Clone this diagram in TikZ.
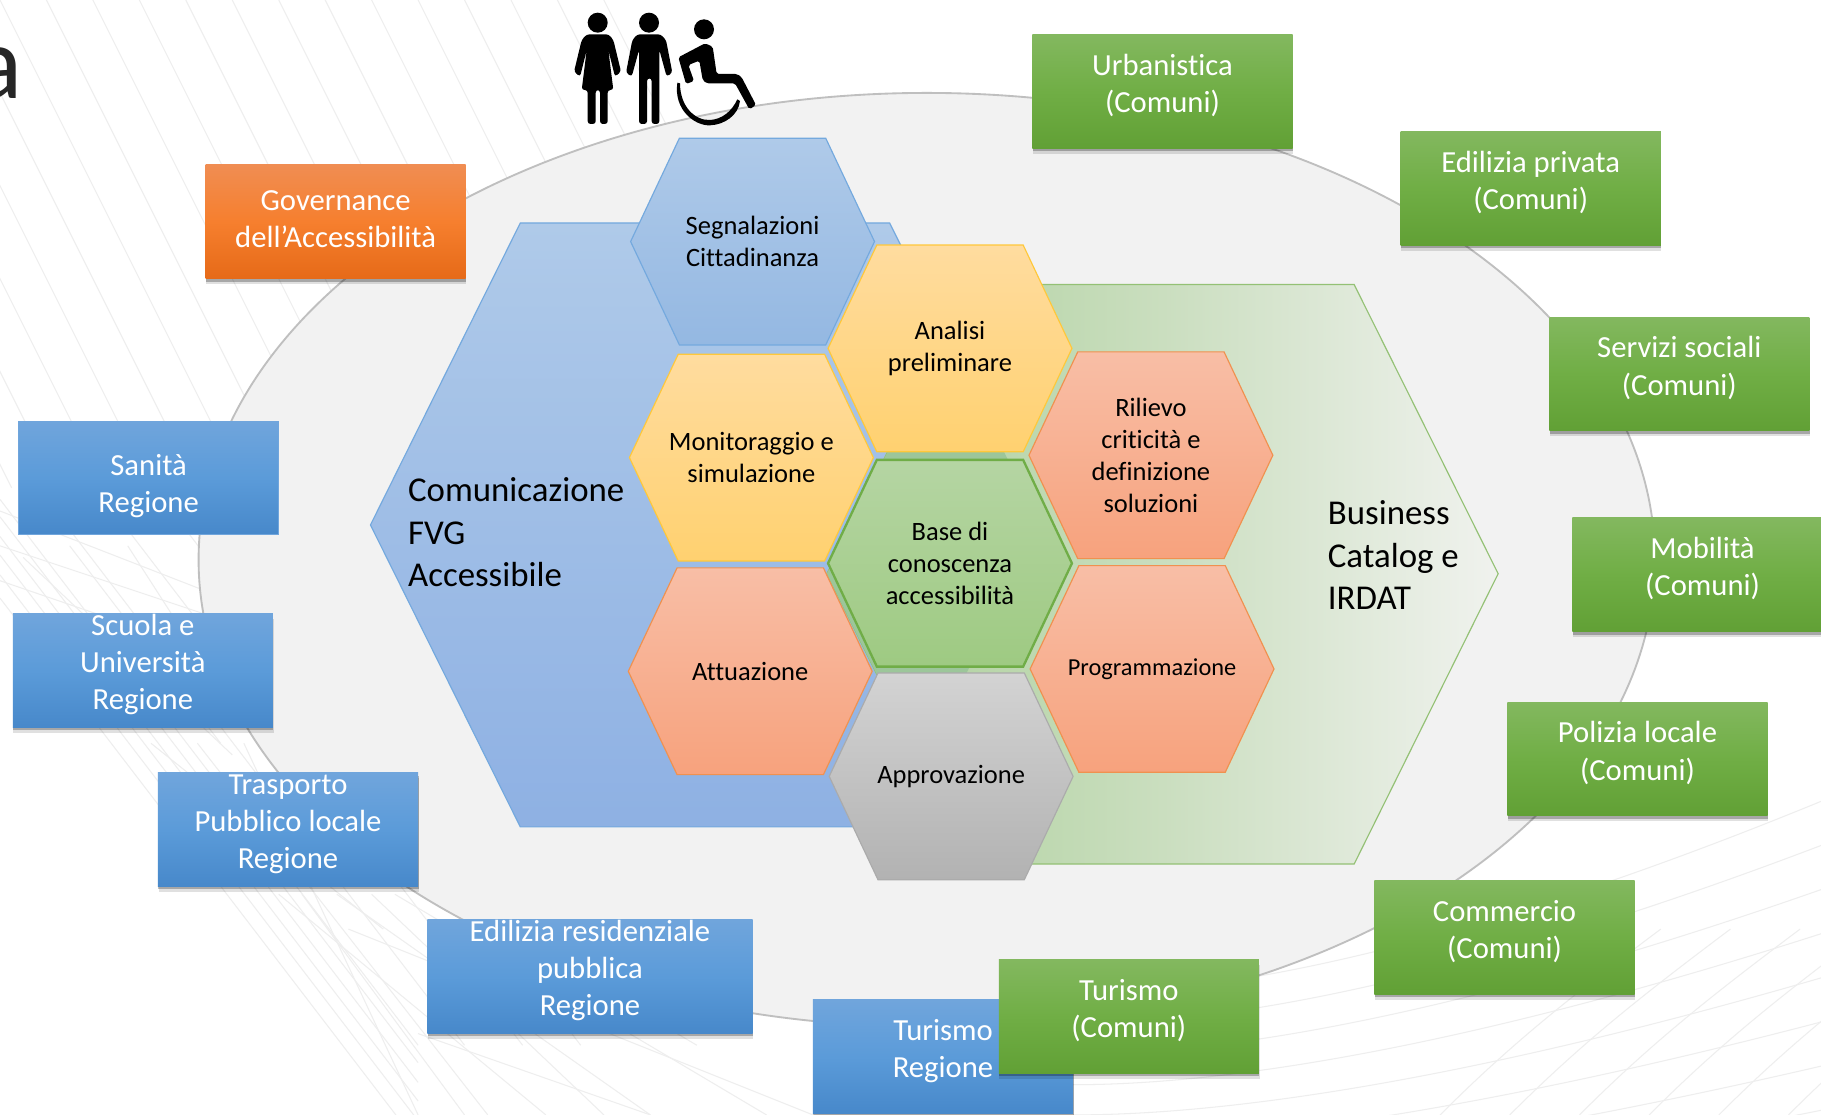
\documentclass[tikz,border=0pt]{standalone}
\usepackage{fontspec}
\setmainfont[Ligatures=NoCommon]{Carlito}
\usetikzlibrary{shadows}
\definecolor{grT}{HTML}{83B85F}\definecolor{grM}{HTML}{70AE45}\definecolor{grB}{HTML}{61A035}
\definecolor{blT}{HTML}{70A5DC}\definecolor{blM}{HTML}{5B9BD9}\definecolor{blB}{HTML}{4788CA}
\definecolor{orT}{HTML}{F08D52}\definecolor{orM}{HTML}{F67F2E}\definecolor{orB}{HTML}{E66A18}
\definecolor{bgline}{HTML}{EEEEEE}
\definecolor{HexBlueD}{HTML}{74A9DE}\definecolor{HexBlueT}{HTML}{AFCAE9}\definecolor{HexBlueB}{HTML}{94B8E2}
\definecolor{HexYelD}{HTML}{FFC83A}\definecolor{HexYelT}{HTML}{FFDC9F}\definecolor{HexYelB}{HTML}{FFD170}
\definecolor{HexSalD}{HTML}{F0914F}\definecolor{HexSalT}{HTML}{F8BEA6}\definecolor{HexSalB}{HTML}{F7A27D}
\definecolor{HexGrnD}{HTML}{70AD47}\definecolor{HexGrnT}{HTML}{B5D5A3}\definecolor{HexGrnB}{HTML}{9ECA82}
\definecolor{HexGryD}{HTML}{ABABAB}\definecolor{HexGryT}{HTML}{D3D3D3}\definecolor{HexGryB}{HTML}{B2B2B2}
\definecolor{BigGrnL}{HTML}{AACF98}\definecolor{BigGrnM}{HTML}{CADEBF}\definecolor{BigGrnR}{HTML}{F0F2EE}
\tikzset{
  boxbase/.style={rectangle,minimum width=112pt,minimum height=49pt,inner sep=0pt,text=white,
    font=\fontsize{13.2}{16}\selectfont,align=center,anchor=center},
  shadowed/.style={general shadow={fill=black,opacity=.12,shadow xshift=.3pt,shadow yshift=-2.4pt},
    general shadow={fill=black,opacity=.25,shadow xshift=.2pt,shadow yshift=-1.2pt}},
  greenbox/.style={boxbase,shadowed,top color=grT,bottom color=grB,middle color=grM},
  bluebox/.style={boxbase,shadowed,top color=blT,bottom color=blB,middle color=blM},
  flatblue/.style={boxbase,top color=blT,bottom color=blB,middle color=blM,draw=blT,line width=.4pt},
  orangebox/.style={boxbase,shadowed,top color=orT,bottom color=orB,middle color=orM},
  hexlabel/.style={font=\fontsize{11.4}{13.75}\selectfont,align=center,text=black,inner sep=0pt},
  biglabel/.style={font=\fontsize{15}{18.3}\selectfont,align=left,text=black,inner sep=0pt,anchor=west},
  hexblue/.style={draw=HexBlueD,line width=.5pt,top color=HexBlueT,bottom color=HexBlueB},
  hexyellow/.style={draw=HexYelD,line width=.5pt,top color=HexYelT,bottom color=HexYelB},
  hexsalmon/.style={draw=HexSalD,line width=.5pt,top color=HexSalT,bottom color=HexSalB},
  hexgreen/.style={draw=HexGrnD,line width=1pt,top color=HexGrnT,bottom color=HexGrnB},
  hexgrey/.style={draw=HexGryD,line width=.5pt,top color=HexGryT,bottom color=HexGryB},
  bgstroke/.style={draw=bgline,line width=.45pt},
}
\newcommand{\hexa}[5]{%
  \path[shift={(#2,#3)},#4] (-105,0)--(-63,-89)--(63,-89)--(105,0)--(63,89)--(-63,89)--cycle;
  \node[hexlabel] (#1) at (#2,#3) {#5};}
\begin{document}
\begin{tikzpicture}[x=.5pt,y=-.5pt]
\useasboundingbox (0,0) rectangle (1568,960);
\clip (0,0) rectangle (1568,960);
\fill[white] (0,0) rectangle (1568,960);
% background lines
\foreach \a in {-360,-320,...,520} \draw[bgstroke] (\a,0) -- (\a+210,420);
\foreach \a/\b in {0/430,0/445,0/462,0/478,0/495,0/515,40/430,90/430,140/430}
  \draw[bgstroke] (\a,\b) -- (\a+360,\b+470);
\foreach \a/\b/\c/\d in {0/440/180/510,0/470/180/530,0/500/175/560,20/480/200/650,60/470/190/640,110/470/200/610,
  130/640/330/800,170/640/420/960,210/640/360/960,240/770/470/960,290/770/560/960,340/770/660/960,
  260/770/400/960,320/770/520/960,380/770/600/900,360/890/560/960,300/800/700/960}
  \draw[bgstroke] (\a,\b) -- (\c,\d);
\foreach \k in {0,1,...,7}
  \draw[bgstroke] (924,856+\k*26) .. controls (1080,856+\k*26) and (1300,800+\k*30) .. (1568,690+\k*38);
\foreach \a in {1240,1300,1360,1420,1480,1540}
  \draw[bgstroke] (\a,960) .. controls (\a+60,900) and (\a+110,860) .. (\a+190,800);
% ellipse
\draw[fill=black!5,draw=black!25,line width=.8pt] (798,482) ellipse [x radius=627,y radius=402];
% title fragment
\node[anchor=base east,inner sep=0pt,font=\fontsize{45}{45}\selectfont,text=black!85] (titlea) at (20,85) {a};
% large hexagons
\path[draw=HexBlueD,line width=.5pt,top color=HexBlueT,bottom color=HexBlueB!96!blue]
  (319,452)--(448,192)--(766,192)--(896,452)--(766,712)--(448,712)--cycle;
\path[draw=HexGrnD!75,line width=.5pt,left color=BigGrnL,right color=BigGrnR,middle color=BigGrnM]
  (712,494)--(836,245)--(1166,245)--(1290,494)--(1166,744)--(836,744)--cycle;
\begin{scope}
  \clip (712,494)--(836,245)--(1166,245)--(1290,494)--(1166,744)--(836,744)--cycle;
  \fill[HexGrnB!75!HexBlueB] (319,452)--(448,192)--(766,192)--(896,452)--(766,712)--(448,712)--cycle;
\end{scope}
\node[biglabel] (fvg) at (351,458.5) {Comunicazione\\FVG\\Accessibile};
\node[biglabel] (irdat) at (1143,478) {Business\\Catalog e\\IRDAT};
% small hexagons
\hexa{seg}{648}{208}{hexblue}{Segnalazioni\\Cittadinanza}
\hexa{mon}{647}{394}{hexyellow}{Monitoraggio e\\simulazione}
\hexa{att}{646}{578}{hexsalmon}{Attuazione}
\hexa{ana}{818}{300}{hexyellow}{Analisi\\preliminare}
\hexa{bas}{818}{485}{hexgreen}{Base di\\conoscenza\\accessibilità}
\hexa{app}{819}{668.5}{hexgrey}{Approvazione}
\hexa{ril}{991}{392}{hexsalmon}{Rilievo\\criticità e\\definizione\\soluzioni}
\hexa{pro}{992}{576}{hexsalmon}{\fontsize{10.5}{13}\selectfont Programmazione}
% boxes
\node[orangebox] (gov) at (289,191) {\raisebox{-1pt}{\begin{tabular}{@{}c@{}}Governance\\[0pt]dell’Accessibilità\end{tabular}}};
\node[flatblue] (san) at (128,411.5) {\\[-16pt]\rule{0pt}{2pt}\\Sanità\\Regione};
\node[bluebox] (scu) at (123,577.5) {\rule{0pt}{2pt}\\[-14pt]Scuola e\\Università\\Regione};
\node[bluebox] (tra) at (248,714.5) {\rule{0pt}{2pt}\\[-14pt]Trasporto\\Pubblico locale\\Regione};
\node[bluebox,minimum width=140pt] (edr) at (508,841) {\rule{0pt}{2pt}\\[-14pt]Edilizia residenziale\\pubblica\\Regione};
\node[bluebox] (tur) at (812,910) {\rule{0pt}{2pt}\\[-14pt]Turismo\\Regione};
\node[greenbox] (tuc) at (972,875.5) {\rule{0pt}{2pt}\\[-14pt]Turismo\\(Comuni)};
\node[greenbox] (com) at (1295.5,807) {\rule{0pt}{2pt}\\[-14pt]Commercio\\(Comuni)};
\node[greenbox] (pol) at (1410,653.5) {\rule{0pt}{2pt}\\[-14pt]Polizia locale\\(Comuni)};
\node[greenbox] (mob) at (1466,495) {\rule{0pt}{2pt}\\[-14pt]Mobilità\\(Comuni)};
\node[greenbox] (ser) at (1446,322) {\rule{0pt}{2pt}\\[-14pt]Servizi sociali\\(Comuni)};
\node[greenbox] (edp) at (1318,162) {\rule{0pt}{2pt}\\[-14pt]Edilizia privata\\(Comuni)};
\node[greenbox] (urb) at (1001,79) {\rule{0pt}{2pt}\\[-14pt]Urbanistica\\(Comuni)};
% people icon
\begin{scope}[shift={(465,0)},x=.1435pt,y=-.1435pt]
  \fill (173,68) circle [radius=30];
  \fill[rounded corners=1.2pt] (140,103)--(206,103)--(220,120)--(243,215)--(225,230)--(205,150)--(220,270)--(203,270)--(203,372)--(180,372)--(180,270)--(167,270)--(167,372)--(143,372)--(143,270)--(125,270)--(140,150)--(120,230)--(102,215)--(125,120)--cycle;
  \fill (327,68) circle [radius=30];
  \fill[rounded corners=1.2pt] (292,103)--(362,103)--(378,120)--(397,218)--(380,230)--(358,150)--(358,372)--(335,372)--(335,235)--(321,235)--(321,372)--(297,372)--(297,150)--(275,230)--(258,218)--(277,120)--cycle;
  \fill (492,88) circle [radius=30];
  \fill[rounded corners=.8pt] (415,172)--(495,130)--(518,140)--(530,222)--(592,222)--(605,232)--(648,315)--(628,328)--(585,250)--(500,250)--(488,240)--(478,182)--(445,195)--(462,243)--(438,252)--cycle;
  \fill (412,248) .. controls (400,330) and (465,378) .. (510,376) .. controls (555,374) and (595,345) .. (600,303) -- (592,298) .. controls (575,335) and (545,358) .. (510,360) .. controls (465,362) and (420,320) .. (420,250) -- cycle;
\end{scope}
\end{tikzpicture}
\end{document}
